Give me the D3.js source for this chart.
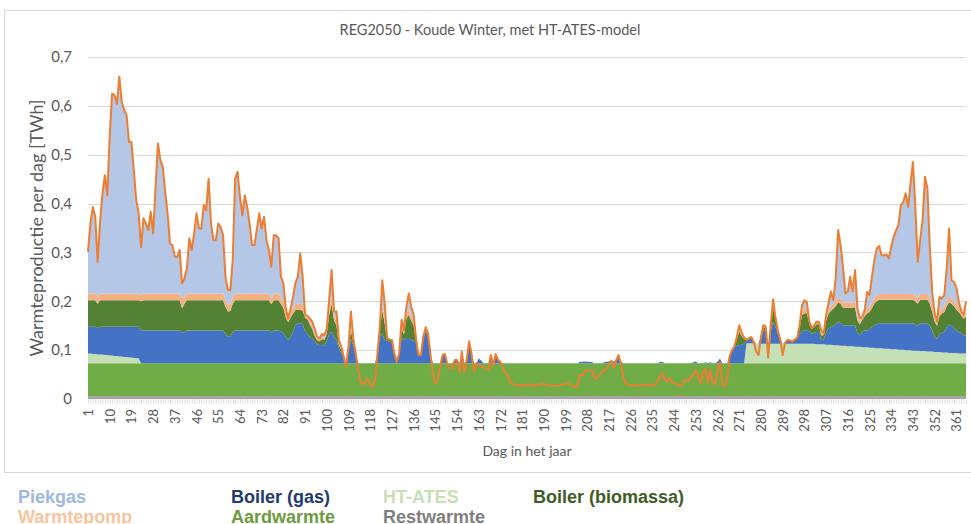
<!DOCTYPE html>
<html><head><meta charset="utf-8">
<script src="https://cdn.jsdelivr.net/npm/d3@7/dist/d3.min.js"></script>
<style>body{margin:0;background:#fff;}svg{display:block;}</style>
</head><body>
<svg id="c" width="971" height="524"></svg>
<script>
// Values in GWh per day (1 GWh = 0.001 TWh)
const days = d3.range(1, 366);
const xTickDays = [1,10,19,28,37,46,55,64,73,82,91,100,109,118,127,136,145,154,163,172,181,190,199,208,217,226,235,244,253,262,271,280,289,298,307,316,325,334,343,352,361];
const yTickValues = [0,0.1,0.2,0.3,0.4,0.5,0.6,0.7];
const yTickLabels = ["0","0,1","0,2","0,3","0,4","0,5","0,6","0,7"];

const aardwarmte = [
73,73,73,73,73,73,73,73,73,73, 73,73,73,73,73,73,73,73,73,73, 73,73,73,73,73,73,73,73,73,73,
73,73,73,73,73,73,73,73,73,73, 73,73,73,73,73,73,73,73,73,73, 73,73,73,73,73,73,73,73,73,73,
73,73,73,73,73,73,73,73,73,73, 73,73,73,73,73,73,73,73,73,73, 73,73,73,73,73,73,73,73,73,73,
73,73,73,73,73,73,73,73,73,73, 73,73,73,73,73,73,73,73,73,73, 73,73,73,73,73,73,73,73,73,73,
73,73,73,73,73,73,73,73,73,73, 73,73,73,73,73,73,73,73,73,73, 73,73,73,73,73,73,73,73,73,73,
73,73,73,73,73,73,73,73,73,73, 73,73,73,73,73,73,73,73,73,73, 73,73,73,73,73,73,73,73,73,73,
73,73,73,73,73,73,73,73,73,73, 73,73,73,73,73,73,73,73,73,73, 73,73,73,73,73,73,73,73,73,73,
73,73,73,73,73,73,73,73,73,73, 73,73,73,73,73,73,73,73,73,73, 73,73,73,73,73,73,73,73,73,73,
73,73,73,73,73,73,73,73,73,73, 73,73,73,73,73,73,73,73,73,73, 73,73,73,73,73,73,73,73,73,73,
73,73,73,73,73,73,73,73,73,73, 73,73,73,73,73,73,73,73,73,73, 73,73,73,73,73,73,73,73,73,73,
73,73,73,73,73,73,73,73,73,73, 73,73,73,73,73,73,73,73,73,73, 73,73,73,73,73,73,73,73,73,73,
73,73,73,73,73,73,73,73,73,73, 73,73,73,73,73,73,73,73,73,73, 73,73,73,73,73,73,73,73,73,73,
73,73,73,73,73
];

const htAtes = [
20,20,19,19,18,18,18,17,17,16, 16,15,15,14,14,13,13,12,12,11, 11,10,0,0,0,0,0,0,0,0,
0,0,0,0,0,0,0,0,0,0, 0,0,0,0,0,0,0,0,0,0, 0,0,0,0,0,0,0,0,0,0,
0,0,0,0,0,0,0,0,0,0, 0,0,0,0,0,0,0,0,0,0, 0,0,0,0,0,0,0,0,0,0,
0,0,0,0,0,0,0,0,0,0, 0,0,0,0,0,0,0,0,0,0, 0,0,0,0,0,0,0,0,0,0,
0,0,0,0,0,0,0,0,0,0, 0,0,0,0,0,0,0,0,0,0, 0,0,0,0,0,0,0,0,0,0,
0,0,0,0,0,0,0,0,0,0, 0,0,0,0,0,0,0,0,0,0, 0,0,0,0,0,0,0,0,0,0,
0,0,0,0,0,0,0,0,0,0, 0,0,0,0,0,0,0,0,0,0, 0,0,0,0,0,0,0,0,0,0,
0,0,0,0,0,0,0,0,0,0, 0,0,0,0,0,0,0,0,0,0, 0,0,0,0,0,0,0,0,0,0,
0,0,0,0,0,0,0,0,0,0, 0,0,0,0,0,0,0,0,0,0, 0,0,0,0,0,0,0,0,0,0,
0,0,0,41,41,41,41,41,41,40, 40,40,40,40,40,40,40,40,40,40, 40,40,40,40,40,40,40,40,40,40,
40,40,39,39,39,39,38,38,38,37, 37,37,36,36,36,35,35,35,34,34, 34,33,33,33,32,32,32,31,31,31,
30,30,30,29,29,29,28,28,28,27, 27,27,26,26,26,25,25,25,24,24, 24,23,23,23,22,22,22,21,21,21,
21,20,20,20,20
];

const boilerGas = [
55,55,56,56,54,57,57,58,58,59, 59,60,60,61,61,62,62,63,63,64, 64,65,67,67,67,67,67,67,67,67,
67,67,67,67,67,67,67,67,67,62, 64,67,67,67,67,67,67,67,67,67, 67,67,67,67,67,67,67,60,54,55,
64,67,67,67,67,67,67,67,67,67, 67,67,67,67,67,67,63,67,67,67, 65,62,54,48,54,65,78,82,82,80,
65,60,54,51,44,39,37,38,36,45, 60,65,54,48,31,21,12,0,22,50, 38,17,0,0,0,0,0,0,0,0,
18,55,61,48,46,44,44,18,3,18, 52,47,52,52,47,47,42,15,15,49, 67,52,15,0,0,0,0,15,17,0,
0,0,7,7,0,20,0,7,35,18, 0,0,10,6,0,0,0,15,4,17, 7,3,0,0,0,0,0,0,0,0,
0,0,0,0,0,0,0,0,0,0, 0,0,0,0,0,0,0,0,0,0, 0,0,0,0,3,3,4,3,3,2,
0,0,0,0,2,3,4,6,3,8, 15,3,0,0,0,0,0,0,0,0, 0,0,0,0,0,0,0,2,3,0,
0,0,0,0,0,0,0,0,0,0, 0,2,4,0,0,0,2,0,2,0, 0,3,10,0,0,0,15,27,33,35,
37,38,40,5,8,10,3,0,0,12, 28,26,0,25,45,35,20,8,0,2, 7,6,4,8,10,20,25,27,28,25,
20,22,25,25,8,10,24,34,36,40, 43,47,46,42,42,43,43,43,44,28, 23,32,34,34,38,42,46,49,51,51,
52,52,52,53,53,53,54,54,54,55, 55,55,56,53,51,57,57,57,58,53, 43,31,27,37,40,42,52,59,56,51,
46,44,42,37,37
];

const boilerBiomassa = [
54,54,54,54,50,54,54,54,54,54, 54,54,54,54,54,54,54,54,54,54, 54,54,60,62,62,62,62,62,62,62,
62,62,62,62,62,62,62,62,62,51, 58,62,62,62,62,62,62,62,62,62, 62,62,62,62,62,62,62,56,52,52,
58,62,62,62,62,62,62,62,62,62, 62,62,62,62,62,62,58,62,62,62, 56,52,40,36,40,37,31,27,27,28,
28,30,25,19,12,8,8,12,12,16, 40,56,34,30,7,6,0,0,6,17, 6,2,0,0,0,0,0,0,0,0,
2,13,48,34,4,4,3,2,0,2, 20,12,40,47,40,30,5,2,2,4, 5,6,2,0,0,0,0,2,2,0,
0,0,0,0,0,2,0,0,6,2, 0,0,0,0,0,0,0,2,0,2, 0,0,0,0,0,0,0,0,0,0,
0,0,0,0,0,0,0,0,0,0, 0,0,0,0,0,0,0,0,0,0, 0,0,0,0,0,0,0,0,0,0,
0,0,0,0,0,0,0,0,0,0, 0,0,0,0,0,0,0,0,0,0, 0,0,0,0,0,0,0,0,0,0,
0,0,0,0,0,0,0,0,0,0, 0,0,0,0,0,0,0,0,0,0, 0,0,0,0,0,0,0,0,2,14,
28,18,10,2,2,3,0,0,0,2, 6,7,0,8,30,15,5,1,0,0, 1,1,0,1,2,12,34,35,35,17,
10,12,16,16,10,9,25,30,33,35, 37,41,40,36,36,36,36,36,37,25, 23,24,30,35,35,39,45,47,48,48,
48,48,48,48,48,48,48,48,48,48, 48,48,48,48,45,48,48,48,48,45, 38,31,27,37,40,41,43,45,45,45,
43,41,37,35,38
];

const warmtepomp = [
14,14,14,14,15,14,14,14,14,14, 14,14,14,14,14,14,14,14,14,14, 14,14,13,14,14,14,14,14,14,14,
14,14,14,14,14,14,14,14,14,18, 15,14,14,14,14,14,14,14,14,14, 14,14,14,14,14,14,14,14,14,14,
14,14,14,14,14,14,14,14,14,14, 14,14,14,14,14,14,10,14,14,14, 12,13,14,8,14,10,12,14,14,12,
6,7,6,6,5,4,3,4,4,5, 10,15,11,10,4,3,0,0,3,10, 3,0,0,0,0,0,0,0,0,0,
0,4,11,10,1,1,1,0,0,0, 7,5,10,13,10,10,2,0,0,2, 2,3,0,0,0,0,0,0,0,0,
0,0,0,0,0,2,0,0,4,0, 0,0,0,0,0,0,0,0,0,0, 0,0,0,0,0,0,0,0,0,0,
0,0,0,0,0,0,0,0,0,0, 0,0,0,0,0,0,0,0,0,0, 0,0,0,0,0,0,0,0,0,0,
0,0,0,0,0,0,0,0,0,0, 0,0,0,0,0,0,0,0,0,0, 0,0,0,0,0,0,0,0,0,0,
0,0,0,0,0,0,0,0,0,0, 0,0,0,0,0,0,0,0,0,0, 0,0,0,0,0,0,0,0,0,3,
6,5,3,0,0,0,0,0,0,0, 2,2,0,2,6,5,2,0,0,0, 0,0,0,0,0,5,10,10,10,5,
2,3,5,5,5,3,5,8,10,10, 10,12,12,11,11,11,11,11,11,8, 7,6,8,10,10,11,11,12,12,12,
12,12,12,12,12,12,12,12,12,12, 12,12,12,12,12,12,12,12,12,12, 12,7,5,10,10,12,10,12,12,10,
12,12,8,5,7
];

const piekgas = [
85,144,177,157,71,146,205,242,201,323, 409,406,388,444,392,375,365,310,310,252, 191,164,98,154,143,130,167,123,217,307,
273,259,208,163,102,99,75,75,89,33, 37,51,113,89,123,164,133,133,181,170, 235,143,109,109,143,136,119,47,30,29,
75,235,249,198,160,201,177,143,99,99, 131,164,133,157,109,89,67,119,119,113, 44,37,4,0,4,24,44,54,102,57,
0,0,7,9,9,4,3,6,6,5, 22,55,7,18,6,4,2,0,3,29, 4,1,0,0,0,0,0,0,0,0,
0,3,50,31,0,0,0,0,0,0, 10,4,14,31,19,12,2,0,0,0, 0,0,0,0,0,0,0,0,0,0,
0,0,0,0,0,0,0,0,0,0, 0,0,0,0,0,0,0,0,0,0, 0,0,0,0,0,0,0,0,0,0,
0,0,0,0,0,0,0,0,0,0, 0,0,0,0,0,0,0,0,0,0, 0,0,0,0,0,0,0,0,0,0,
0,0,0,0,0,0,0,0,0,0, 0,0,0,0,0,0,0,0,0,0, 0,0,0,0,0,0,0,0,0,0,
0,0,0,0,0,0,0,0,0,0, 0,0,0,0,0,0,0,0,0,0, 0,0,0,0,0,0,0,0,0,2,
7,1,0,0,0,0,0,0,0,0, 2,0,0,0,10,0,0,0,0,0, 0,0,0,0,0,0,10,17,13,0,
0,0,0,0,6,0,7,13,30,7, 50,136,108,73,18,22,52,22,65,17, 5,0,4,34,25,53,77,96,98,79,
79,81,73,96,117,130,141,182,188,206, 178,226,270,181,74,110,151,240,216,104, 29,10,3,29,21,23,67,139,36,40,
33,10,0,2,25
];

// Warmtevraag (orange line)
const warmtevraag = [
301,360,393,373,281,362,421,458,417,539, 625,622,604,660,608,591,581,526,526,468, 407,380,311,370,359,346,383,339,433,523,
489,475,424,379,318,315,291,291,305,237, 247,267,329,305,339,380,349,349,397,386, 451,359,325,325,359,352,335,250,223,223,
284,451,465,414,376,417,393,359,315,315, 347,380,349,373,325,305,271,335,335,329, 250,237,185,165,185,209,238,250,298,250,
172,170,165,158,143,128,124,133,131,144, 205,264,179,179,121,107,87,66,107,179, 124,93,59,35,29,35,42,29,25,39,
93,148,243,196,124,122,121,93,76,93, 162,141,189,216,189,172,124,90,90,128, 147,134,90,53,31,40,66,90,92,70,
63,63,80,80,55,97,53,80,118,93, 56,73,70,68,65,63,60,90,68,92, 80,76,63,53,49,35,31,29,28,28,
28,28,29,29,28,27,28,29,31,30, 29,28,27,27,27,27,28,30,31,31, 30,26,25,27,50,48,57,58,58,59,
42,43,48,55,60,61,72,78,64,80, 90,70,43,32,28,28,28,27,28,28, 28,29,29,28,28,28,34,45,53,42,
35,43,36,33,31,27,28,35,39,36, 46,49,59,45,32,56,62,33,59,35, 29,59,75,29,27,37,88,100,108,127,
151,135,126,121,124,127,117,97,90,127, 151,148,85,148,204,168,140,122,90,115, 121,120,117,122,125,150,192,202,199,160,
145,150,158,158,141,134,172,196,220,202, 250,346,315,271,216,220,250,220,264,185, 165,168,182,219,213,250,284,308,313,294,
294,296,288,311,332,345,356,397,403,421, 393,441,485,393,281,325,366,455,431,311, 219,175,158,209,206,213,267,349,243,240,
228,200,180,172,200
];

const seriesNames = ["Aardwarmte","HT-ATES","Boiler (gas)","Boiler (biomassa)","Warmtepomp","Piekgas"];
const seriesColors = ["#70AD47","#C5E0B4","#4472C4","#548235","#F4B183","#B4C7E7"];
const legendItems = [
  {name:"Piekgas", color:"#9DB8E2", col:0, row:0},
  {name:"Boiler (gas)", color:"#203B6E", col:1, row:0},
  {name:"HT-ATES", color:"#C5E0B4", col:2, row:0},
  {name:"Boiler (biomassa)", color:"#3E5D24", col:3, row:0},
  {name:"Warmtepomp", color:"#F8C49E", col:0, row:1},
  {name:"Aardwarmte", color:"#6E9A3E", col:1, row:1},
  {name:"Restwarmte", color:"#7F7F7F", col:2, row:1}
];

[aardwarmte,htAtes,boilerGas,boilerBiomassa,warmtepomp,piekgas,warmtevraag].forEach((a,i)=>{
  if(a.length!==365) console.error("array "+i+" has length "+a.length);
});

const layers = [aardwarmte,htAtes,boilerGas,boilerBiomassa,warmtepomp,piekgas];
const rows = days.map((d,i)=>{
  const r = {day:d, vraag: warmtevraag[i]/1000};
  seriesNames.forEach((n,k)=>{ r[n] = (layers[k][i]||0)/1000; });
  return r;
});

const svg = d3.select("#c");
const font = "Lato, 'Open Sans', sans-serif";
const x = d3.scaleLinear().domain([1,365]).range([88,966]);
const y = d3.scaleLinear().domain([0,0.7]).range([399,57]);

// chart border
svg.append("rect").attr("x",4.5).attr("y",10.5).attr("width",990).attr("height",462)
  .attr("fill","#fff").attr("stroke","#D9D9D9").attr("stroke-width",1);

// gridlines
svg.append("g").selectAll("line").data(yTickValues.slice(1)).join("line")
  .attr("x1",x(1)).attr("x2",x(365))
  .attr("y1",d=>Math.round(y(d))+0.5).attr("y2",d=>Math.round(y(d))+0.5)
  .attr("stroke","#D9D9D9").attr("stroke-width",1);

// stacked areas
const stack = d3.stack().keys(seriesNames)(rows);
const area = d3.area().x(d=>x(d.data.day)).y0(d=>y(d[0])).y1(d=>y(d[1]));
svg.append("g").selectAll("path").data(stack).join("path")
  .attr("d",area).attr("fill",(d,i)=>seriesColors[i]);

// x axis: dense tick marks + base strip
const xAxisTicks = d3.axisBottom(x).tickValues(days).tickSize(5).tickFormat("");
const gt = svg.append("g").attr("transform","translate(0,399)").call(xAxisTicks);
gt.select(".domain").remove();
gt.selectAll(".tick line").attr("stroke","#D0D0D0").attr("stroke-width",0.6);
svg.append("line").attr("x1",x(1)).attr("x2",x(365)).attr("y1",397.5).attr("y2",397.5)
  .attr("stroke","#A6A6A6").attr("stroke-width",3);

// demand line
const line = d3.line().x(d=>x(d.day)).y(d=>y(d.vraag));
svg.append("path").datum(rows).attr("d",line).attr("fill","none")
  .attr("stroke","#ED7D31").attr("stroke-width",2).attr("stroke-linejoin","round");

// x tick labels (rotated)
const xLabelAxis = d3.axisBottom(x).tickValues(xTickDays).tickSize(0).tickPadding(0).tickFormat(d=>String(d));
const gx = svg.append("g").attr("transform","translate(0,409)").call(xLabelAxis);
gx.select(".domain").remove();
gx.selectAll(".tick text").attr("transform","rotate(-90)").attr("text-anchor","end")
  .attr("x",0).attr("y",0).attr("dy","0.35em")
  .style("font-family",font).style("font-size","13px").attr("fill","#595959");

// y tick labels
const yAxis = d3.axisLeft(y).tickValues(yTickValues).tickSize(0).tickPadding(0)
  .tickFormat((d,i)=>yTickLabels[i]);
const gy = svg.append("g").attr("transform","translate(72,0)").call(yAxis);
gy.select(".domain").remove();
gy.selectAll(".tick text").style("font-family",font).style("font-size","15px").attr("fill","#595959");

// titles
svg.append("text").attr("x",490).attr("y",35).attr("text-anchor","middle")
  .style("font-family",font).style("font-size","14.5px").attr("fill","#595959")
  .text("REG2050 - Koude Winter, met HT-ATES-model");
svg.append("text").attr("transform","translate(43,228) rotate(-90)").attr("text-anchor","middle")
  .style("font-family",font).style("font-size","18px").attr("fill","#595959")
  .text("Warmteproductie per dag [TWh]");
svg.append("text").attr("x",527).attr("y",456).attr("text-anchor","middle")
  .style("font-family",font).style("font-size","14px").attr("fill","#595959")
  .text("Dag in het jaar");

// legend (coloured text)
const legendX = [18,231,383,533];
const legendY = [503,523];
svg.append("g").selectAll("text").data(legendItems).join("text")
  .attr("x",d=>legendX[d.col]).attr("y",d=>legendY[d.row])
  .style("font-family","'Liberation Sans', Arial, sans-serif").style("font-weight","bold")
  .style("font-size","18px").attr("fill",d=>d.color).text(d=>d.name);
</script>
</body></html>
